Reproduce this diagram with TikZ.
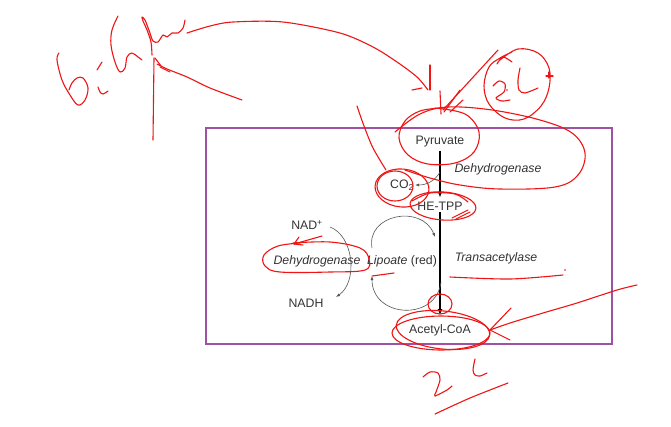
\documentclass[tikz,border=0pt]{standalone}
\usepackage{fontspec}
\setmainfont{Liberation Sans}
\usetikzlibrary{arrows.meta,calc}
\definecolor{txt}{HTML}{333333}
\definecolor{boxpurple}{RGB}{158,82,163}
\definecolor{inkred}{RGB}{240,20,20}
\definecolor{arcgray}{HTML}{555555}
\tikzset{
  lbl/.style={font=\fontsize{12.3}{14}\selectfont, text=txt, inner sep=1pt},
  ilbl/.style={lbl, font=\fontsize{12.3}{14}\selectfont\itshape},
  mainarrow/.style={line width=1.8pt, black, -{Latex[length=6pt,width=5pt]}},
  thinarrow/.style={line width=0.6pt, arcgray, -{Latex[length=4pt,width=3pt]}},
  ink/.style={inkred, line width=1.1pt, line cap=round, line join=round},
}
\begin{document}
\begin{tikzpicture}[x=1pt,y=-1pt]
\useasboundingbox (0,0) rectangle (671,426);
\fill[white] (0,0) rectangle (671,426);
% purple box
\draw[boxpurple, line width=2.4pt] (206,128) rectangle (612,344);
% labels
\node[lbl] (pyr) at (440,142) {Pyruvate};
\node[lbl] (hetpp) at (440,206) {HE-TPP};
\node[lbl] (acoa) at (440,330) {Acetyl-CoA};
\node[lbl] (co2) at (402,185) {CO\textsubscript{2}};
\node[ilbl] (dh1) at (498,169) {Dehydrogenase};
\node[ilbl] (trans) at (496,258) {Transacetylase};
\node[lbl] (lip) at (402,261) {\textit{Lipoate} (red)};
\node[ilbl] (dh2) at (317,261) {Dehydrogenase};
\node[lbl] (nadp) at (307,225) {NAD\textsuperscript{+}};
\node[lbl] (nadh) at (306,303) {NADH};
% main arrows
\draw[mainarrow, shorten <=2pt, shorten >=3pt] (pyr.south) -- (hetpp.north);
\draw[mainarrow, shorten <=1pt, shorten >=8pt] (hetpp.south) -- (acoa.north);
% CO2 branch
\coordinate (m1) at ($(pyr.south)!0.45!(hetpp.north)$);
\draw[thinarrow] (m1) to[out=-120,in=0] (co2.east);
% lipoate cycle
\coordinate (lt) at (372,248);
\coordinate (lh) at (435,237);
\coordinate (lb) at (441,282);
\coordinate (le) at (372,276);
\draw[thinarrow] (lt) .. controls (366,214) and (422,204) .. (lh);
\draw[thinarrow] (lb) .. controls (436,322) and (372,318) .. (le);
% NAD arc
\coordinate (n1) at (330,227);
\coordinate (n2) at (336,297);
\draw[thinarrow] (n1) .. controls (354,236) and (358,282) .. (n2);

% ---------- red handwriting ----------
% "6 : C"
\draw[ink] plot[smooth,tension=0.6] coordinates {(59,53) (57,60) (62,80) (70,95) (78,105) (85,100) (88,88) (83,78) (77,78) (72,83) (69,90)};
\draw[ink] (102,62) -- (97,70);
\draw[ink] plot[smooth] coordinates {(98,87) (100,92) (103,94) (108,91)};
\draw[ink] plot[smooth,tension=0.6] coordinates {(118,16) (112,30) (111,45) (115,62) (120,72) (125,68) (127,57) (132,53) (138,57) (142,60)};
\draw[ink] plot[smooth,tension=0.5] coordinates {(152,55) (151,42) (147,30) (143,21) (142,17) (145,20) (150,33) (153,41) (158,42) (163,35) (167,37) (172,33) (178,33) (183,28) (185,20)};
\draw[ink] (154,58) -- (153,140);
\draw[ink] plot[smooth] coordinates {(242,100) (210,88) (187,77) (167,69) (157,64)};
\draw[ink] (155,58) -- (161,66);
\draw[ink] (160,67) -- (170,72);
% long arc to pyruvate
\draw[ink] plot[smooth] coordinates {(187,33) (210,26) (233,22) (283,22) (340,33) (373,47) (397,62) (417,77) (428,90)};
\draw[ink] (430,65) -- (430,90);
\draw[ink] (412,90) -- (422,88);
\draw[ink] (440,91) -- (441,114);
% 2C circle
\draw[ink] plot[smooth,tension=0.6] coordinates {(500,60) (518,49) (538,53) (549,68) (549,88) (541,106) (524,119) (505,118) (489,104) (484,86) (489,67) (500,58) (512,52)};
\draw[ink] plot[smooth] coordinates {(497,64) (503,57) (512,62)};
\draw[ink] plot[smooth,tension=0.5] coordinates {(493,86) (499,81) (505,84) (504,92) (496,98) (502,101) (510,100)};
\fill[inkred] (507,90) circle (0.9);
\draw[ink] plot[smooth,tension=0.5] coordinates {(520,68) (518,80) (519,90) (525,93) (538,88)};
\draw[ink] (546,76) -- (553,76);
\draw[ink] (549,72) -- (549,78);
% arrow from 2C to pyruvate
\draw[ink] (498,50) -- (443,110);
\draw[ink] (460,90) -- (444,112);
\draw[ink] (463,100) -- (450,112);
% pyruvate circles
\draw[ink] plot[smooth,tension=0.6] coordinates {(435,108) (465,114) (479,132) (474,152) (455,163) (428,164) (408,155) (399,138) (405,121) (420,111) (440,108)};
\draw[ink] plot[smooth,tension=0.6] coordinates {(395,132) (420,114) (448,107) (492,110) (540,120) (572,133) (585,153) (578,175) (555,187) (500,189) (460,185) (430,178) (405,170)};
% line down to CO2
\draw[ink] plot[smooth] coordinates {(357,106) (364,126) (373,148) (386,170)};
% CO2 circles
\draw[ink, rotate around={-5:(402,188)}] (402,188) ellipse (27 and 19);
\draw[ink] (395,186) ellipse (18 and 15);
% HE-TPP ellipse
\draw[ink, rotate around={-4:(443,206)}] (443,206) ellipse (33 and 14);
\draw[ink] plot[smooth] coordinates {(412,201) (430,193) (455,194) (468,202)};
\draw[ink] (452,218) -- (468,210);
\draw[ink] (456,219) -- (470,212);
% left dehydrogenase ellipse and NAD arrow
\draw[ink] plot[smooth,tension=0.6] coordinates {(293,243) (330,242) (360,248) (369,259) (365,270) (330,272) (280,272) (265,266) (264,255) (278,246) (300,243)};
\draw[ink] (322,236) -- (294,244);
\draw[ink] (294,244) -- (299,237);
\draw[ink] (294,244) -- (303,245);
% under lipoate
\draw[ink] (372,276) -- (394,273);
% transacetylase underline
\draw[ink] plot[smooth] coordinates {(450,277) (510,279) (563,275)};
\fill[inkred] (565,270) circle (0.8);
% acetyl-CoA circles
\draw[ink] (440,304) ellipse (12 and 10);
\draw[ink, rotate around={-6:(443,330)}] (443,330) ellipse (47 and 19);
\draw[ink] (441,333) ellipse (49 and 17);
% right arrow to acetyl-CoA
\draw[ink] plot[smooth] coordinates {(637,285) (617,290) (577,303) (543,313) (510,323) (490,330)};
\draw[ink] (511,308) -- (490,330) -- (510,340);
% "2C" below
\draw[ink] plot[smooth,tension=0.5] coordinates {(423,377) (430,372) (438,373) (440,380) (436,392) (435,396) (447,390) (452,386)};
\draw[ink] plot[smooth] coordinates {(475,359) (473,370) (475,375) (480,376) (487,373)};
\draw[ink] plot[smooth] coordinates {(435,414) (470,398) (508,383)};
\end{tikzpicture}
\end{document}
